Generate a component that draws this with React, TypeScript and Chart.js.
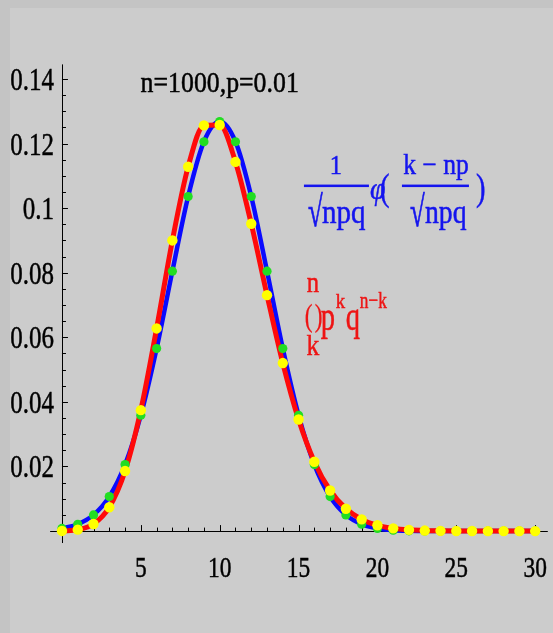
import React, { useEffect, useRef } from "react";
import { Chart, registerables } from "chart.js";

Chart.register(...registerables);

// k = 0..30
const kValues = [
  0, 1, 2, 3, 4, 5, 6, 7, 8, 9, 10, 11, 12, 13, 14, 15, 16, 17, 18, 19, 20,
  21, 22, 23, 24, 25, 26, 27, 28, 29, 30,
];

// binomial probabilities C(n,k) p^k q^(n-k), red curve, yellow dots
const binomialValues = [
  0.0000432, 0.000436, 0.0022, 0.00739, 0.01861, 0.03745, 0.06274, 0.08999,
  0.11282, 0.12561, 0.12574, 0.11431, 0.09516, 0.07305, 0.05202, 0.03454,
  0.02148, 0.01256, 0.00693, 0.00362, 0.00179, 0.00084, 0.00038, 0.00016,
  0.00007, 0.00003, 0.00001, 0, 0, 0, 0,
];

// normal approximation, blue curve, green dots
const normalValues = [
  0.000813, 0.002121, 0.005003, 0.010673, 0.02059, 0.03587, 0.05651, 0.08048,
  0.1036, 0.12055, 0.12679, 0.12055, 0.1036, 0.08048, 0.05651, 0.03587,
  0.02059, 0.010673, 0.005003, 0.002121, 0.000813, 0.000281, 0.000088,
  0.000025, 0, 0, 0, 0, 0, 0, 0,
];

const xTickValues = [5, 10, 15, 20, 25, 30];
const xTickLabels = ["5", "10", "15", "20", "25", "30"];
const yTickValues = [0.02, 0.04, 0.06, 0.08, 0.1, 0.12, 0.14];
const yTickLabels = ["0.02", "0.04", "0.06", "0.08", "0.1", "0.12", "0.14"];

const titleText = "n=1000,p=0.01";

const SERIF = "'Liberation Serif', 'Times New Roman', 'DejaVu Serif', serif";

function txt(
  ctx: CanvasRenderingContext2D,
  s: string,
  x: number,
  y: number,
  size: number,
  color: string,
  align: CanvasTextAlign,
  sx: number,
  style = "normal",
  stroke = 0.5
) {
  ctx.save();
  ctx.translate(x, y);
  ctx.scale(sx, 1);
  ctx.font = `${style} ${size}px ${SERIF}`;
  ctx.fillStyle = color;
  ctx.textAlign = align;
  ctx.textBaseline = "alphabetic";
  ctx.fillText(s, 0, 0);
  if (stroke > 0) {
    ctx.strokeStyle = color;
    ctx.lineWidth = stroke;
    ctx.strokeText(s, 0, 0);
  }
  ctx.restore();
}

const axesPlugin = {
  id: "mathAxes",
  beforeDatasetsDraw(chart: any) {
    const { ctx } = chart;
    const xs = chart.scales.x;
    const ys = chart.scales.y;
    const ox = xs.getPixelForValue(0);
    const oy = ys.getPixelForValue(0);
    ctx.save();
    ctx.strokeStyle = "#000";
    ctx.lineWidth = 1;
    ctx.beginPath();
    // x axis
    ctx.moveTo(xs.getPixelForValue(-0.75), Math.round(oy) + 0.5);
    ctx.lineTo(xs.getPixelForValue(30.8), Math.round(oy) + 0.5);
    // y axis
    ctx.moveTo(Math.round(ox) + 0.5, ys.getPixelForValue(0.1445));
    ctx.lineTo(Math.round(ox) + 0.5, ys.getPixelForValue(-0.0037));
    // x ticks (pointing up)
    for (let k = 1; k <= 30; k++) {
      const px = Math.round(xs.getPixelForValue(k)) + 0.5;
      const len = k % 5 === 0 ? 6 : 3.5;
      ctx.moveTo(px, oy);
      ctx.lineTo(px, oy - len);
    }
    // y ticks (pointing right)
    for (let i = 1; i <= 28; i++) {
      const v = i * 0.005;
      const py = Math.round(ys.getPixelForValue(v)) + 0.5;
      const len = i % 4 === 0 ? 6 : 4;
      ctx.moveTo(ox, py);
      ctx.lineTo(ox + len, py);
    }
    ctx.stroke();
    ctx.restore();
  },
  afterDraw(chart: any) {
    const { ctx } = chart;
    const xs = chart.scales.x;
    const ys = chart.scales.y;
    const ox = xs.getPixelForValue(0);
    const oy = ys.getPixelForValue(0);

    // tick labels
    yTickValues.forEach((v, i) => {
      txt(ctx, yTickLabels[i], ox - 8, ys.getPixelForValue(v) + 11, 32, "#000", "right", 0.78);
    });
    xTickValues.forEach((v, i) => {
      txt(ctx, xTickLabels[i], xs.getPixelForValue(v), oy + 46, 30, "#000", "center", 0.78);
    });

    // title
    txt(ctx, titleText, xs.getPixelForValue(10), ys.getPixelForValue(0.136), 29, "#000", "center", 0.89);

    // blue formula: 1/sqrt(npq) phi((k-np)/sqrt(npq))
    const blue = "#1414ee";
    const bx = xs.getPixelForValue(15.34);
    const by = ys.getPixelForValue(0.1069);
    ctx.save();
    ctx.fillStyle = blue;
    ctx.fillRect(bx, by - 1.25, 65, 2.5);
    ctx.fillRect(bx + 98, by - 1.25, 67, 2.5);
    ctx.restore();
    txt(ctx, "1", bx + 32, by - 12, 27, blue, "center", 0.9);
    txt(ctx, "\u221A", bx + 4, by + 40, 43, blue, "left", 0.62, "normal", 0.8);
    txt(ctx, "npq", bx + 18, by + 37, 33, blue, "left", 0.88);
    txt(ctx, "\u03C6", bx + 66, by + 13, 31, blue, "left", 0.9, "italic");
    txt(ctx, "(", bx + 76, by + 14, 38, blue, "left", 0.75);
    txt(ctx, "k \u2212 np", bx + 132, by - 12, 29, blue, "center", 0.88);
    txt(ctx, "\u221A", bx + 106, by + 40, 43, blue, "left", 0.62, "normal", 0.8);
    txt(ctx, "npq", bx + 121, by + 37, 33, blue, "left", 0.84);
    txt(ctx, ")", bx + 172, by + 14, 38, blue, "left", 0.75);

    // red formula: (n k) p^k q^(n-k)
    const red = "#ee1414";
    const rx = xs.getPixelForValue(15.46);
    const ry = ys.getPixelForValue(0.0629);
    txt(ctx, "n", rx + 7, ry - 36, 29, red, "center", 0.85);
    txt(ctx, "(", rx - 1, ry - 2, 31, red, "left", 0.75, "normal", 0.3);
    txt(ctx, ")", rx + 9, ry - 2, 31, red, "left", 0.75, "normal", 0.3);
    txt(ctx, "k", rx + 7, ry + 27, 30, red, "center", 0.85);
    txt(ctx, "p", rx + 15, ry + 2, 42, red, "left", 0.68);
    txt(ctx, "k", rx + 30, ry - 20, 22, red, "left", 0.85);
    txt(ctx, "q", rx + 40, ry + 2, 42, red, "left", 0.68);
    txt(ctx, "n\u2212k", rx + 54, ry - 20, 24, red, "left", 0.72);
  },
};

export default function App() {
  const canvasRef = useRef<HTMLCanvasElement | null>(null);

  useEffect(() => {
    const canvas = canvasRef.current;
    if (!canvas) return;
    const binomialPts = kValues.map((k, i) => ({ x: k, y: binomialValues[i] }));
    const normalPts = kValues.map((k, i) => ({ x: k, y: normalValues[i] }));
    const chart = new Chart(canvas, {
      type: "line",
      data: {
        datasets: [
          {
            label: "binomial points",
            data: binomialPts,
            showLine: false,
            pointRadius: 5.2,
            pointBackgroundColor: "#ffff00",
            pointBorderWidth: 0,
            order: 0,
          },
          {
            label: "normal points",
            data: normalPts,
            showLine: false,
            pointRadius: 4.6,
            pointBackgroundColor: "#22dd22",
            pointBorderWidth: 0,
            order: 1,
          },
          {
            label: "binomial",
            data: binomialPts,
            borderColor: "#ff0a0a",
            borderWidth: 5,
            pointRadius: 0,
            cubicInterpolationMode: "monotone",
            fill: false,
            order: 2,
          },
          {
            label: "normal",
            data: normalPts,
            borderColor: "#0a0aff",
            borderWidth: 4.5,
            pointRadius: 0,
            cubicInterpolationMode: "monotone",
            fill: false,
            order: 3,
          },
        ],
      },
      options: {
        responsive: false,
        animation: false,
        layout: { padding: { left: 44, right: 3, top: 58, bottom: 89 } },
        scales: {
          x: { type: "linear", min: -0.505, max: 30.8, display: false },
          y: { type: "linear", min: -0.004, max: 0.144, display: false },
        },
        plugins: {
          legend: { display: false },
          tooltip: { enabled: false },
        },
      },
      plugins: [axesPlugin],
    });
    return () => chart.destroy();
  }, []);

  return (
    <div style={{ position: "fixed", left: 0, top: 0, right: 0, bottom: 0, background: "#c4c4c4" }}>
      <div style={{ position: "absolute", left: 10, top: 8, width: 543, height: 625, background: "#cccccc" }}>
        <canvas ref={canvasRef} width={543} height={625} style={{ display: "block" }} />
      </div>
    </div>
  );
}
